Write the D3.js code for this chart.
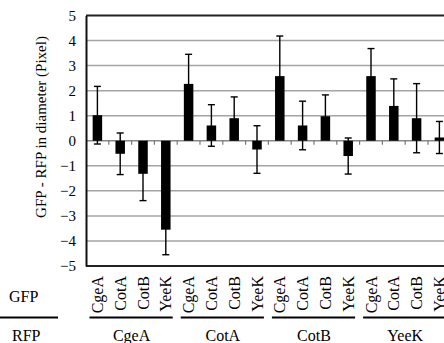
<!DOCTYPE html>
<html>
<head>
<meta charset="utf-8">
<script src="https://cdn.jsdelivr.net/npm/d3@7"></script>
<style>
  body { margin: 0; background: #fff; }
  svg text { font-family: "Liberation Serif", "Times New Roman", serif; }
</style>
</head>
<body>
<svg id="chart"></svg>
<script>
// data
var rfpGroups = ["CgeA", "CotA", "CotB", "YeeK"]
var gfpNames = ["CgeA", "CotA", "CotB", "YeeK"]
var means = [1.02, -0.52, -1.32, -3.55,
             2.27, 0.61, 0.90, -0.35,
             2.58, 0.61, 0.98, -0.61,
             2.58, 1.39, 0.90, 0.13]
var errors = [1.15, 0.83, 1.07, 1.00,
              1.18, 0.83, 0.85, 0.95,
              1.60, 0.97, 0.85, 0.72,
              1.10, 1.08, 1.38, 0.64]
var yTicks = [-5, -4, -3, -2, -1, 0, 1, 2, 3, 4, 5]

var dims = {
    width: 444,
    height: 343,
    margin: { top: 15.5, left: 86, bottom: 77 }
}
var step = 22.8
var serif = "'Liberation Serif', 'Times New Roman', serif"

var rows = []
rfpGroups.forEach(function(r, gi) {
    gfpNames.forEach(function(g, i) {
        var k = gi * 4 + i
        rows.push({ key: r + "_" + g, rfp: r, gfp: g, mean: means[k], err: errors[k] })
    })
})

var svg = d3.select("#chart")
            .attr("width", dims.width)
            .attr("height", dims.height)
            .attr("font-family", serif)

var xScale = d3.scaleBand()
               .domain(rows.map(d => d.key))
               .range([dims.margin.left, dims.margin.left + step * rows.length])

var yScale = d3.scaleLinear()
               .domain([5, -5])
               .range([dims.margin.top, dims.height - dims.margin.bottom])

var xMid = d => xScale(d.key) + xScale.bandwidth() / 2
var barW = 9.5

// gridlines
svg.append("g")
   .selectAll("line")
   .data(yTicks.filter(t => t != 5 && t != -5 && t != 0))
   .enter()
   .append("line")
   .attr("x1", dims.margin.left)
   .attr("x2", dims.width)
   .attr("y1", d => yScale(d))
   .attr("y2", d => yScale(d))
   .attr("stroke", "#a4a4a4")
   .attr("stroke-width", 1.5)

// zero line with category ticks
svg.append("line")
   .attr("x1", dims.margin.left)
   .attr("x2", dims.width)
   .attr("y1", yScale(0))
   .attr("y2", yScale(0))
   .attr("stroke", "#888")
   .attr("stroke-width", 1.5)

svg.append("g")
   .selectAll("line")
   .data(rows)
   .enter()
   .append("line")
   .attr("x1", d => xScale(d.key) + xScale.bandwidth())
   .attr("x2", d => xScale(d.key) + xScale.bandwidth())
   .attr("y1", yScale(0))
   .attr("y2", yScale(0) + 4)
   .attr("stroke", "#777")
   .attr("stroke-width", 1.2)

// error bars
var errG = svg.append("g").attr("stroke", "black").attr("stroke-width", 1.4)
errG.selectAll(".stem")
    .data(rows)
    .enter()
    .append("line")
    .attr("x1", xMid).attr("x2", xMid)
    .attr("y1", d => yScale(d.mean + d.err))
    .attr("y2", d => yScale(d.mean - d.err))
errG.selectAll(".capTop")
    .data(rows)
    .enter()
    .append("line")
    .attr("x1", d => xMid(d) - 3.5).attr("x2", d => xMid(d) + 3.5)
    .attr("y1", d => yScale(d.mean + d.err))
    .attr("y2", d => yScale(d.mean + d.err))
errG.selectAll(".capBot")
    .data(rows)
    .enter()
    .append("line")
    .attr("x1", d => xMid(d) - 3.5).attr("x2", d => xMid(d) + 3.5)
    .attr("y1", d => yScale(d.mean - d.err))
    .attr("y2", d => yScale(d.mean - d.err))

// bars
svg.append("g")
   .selectAll("rect")
   .data(rows)
   .enter()
   .append("rect")
   .attr("x", d => xMid(d) - barW / 2)
   .attr("width", barW)
   .attr("y", d => yScale(Math.max(0, d.mean)))
   .attr("height", d => Math.abs(yScale(d.mean) - yScale(0)))
   .attr("fill", "black")

// frame: top and bottom
svg.append("line")
   .attr("x1", dims.margin.left).attr("x2", dims.width)
   .attr("y1", yScale(5)).attr("y2", yScale(5))
   .attr("stroke", "#222").attr("stroke-width", 1.8)
svg.append("line")
   .attr("x1", dims.margin.left).attr("x2", dims.width)
   .attr("y1", yScale(-5)).attr("y2", yScale(-5))
   .attr("stroke", "#222").attr("stroke-width", 1.8)

var yAxisGen = d3.axisLeft().scale(yScale).tickValues(yTicks).tickSize(0).tickPadding(10)
var yAxis = svg.append("g")
               .attr("transform", `translate(${dims.margin.left},0)`)
               .call(yAxisGen)
               .attr("font-family", serif)
               .attr("font-size", "15px")
yAxis.select(".domain").attr("stroke", "#111").attr("stroke-width", 2)
yAxis.selectAll("text").attr("fill", "black")

// y label
svg.append("text")
   .attr("transform", "rotate(-90)")
   .attr("x", -127)
   .attr("y", 46)
   .attr("text-anchor", "middle")
   .attr("font-size", "15px")
   .attr("fill", "black")
   .text("GFP - RFP in diameter (Pixel)")

// GFP names under each bar
svg.append("g")
   .selectAll("text")
   .data(rows)
   .enter()
   .append("text")
   .attr("transform", d => `translate(${xMid(d) + 5.5},${yScale(-5) + 10}) rotate(-90)`)
   .attr("text-anchor", "end")
   .attr("font-size", "16px")
   .attr("fill", "black")
   .text(d => d.gfp)

// row labels
svg.append("text").attr("x", 9).attr("y", 302).attr("font-size", "16px").text("GFP")
svg.append("text").attr("x", 12).attr("y", 341).attr("font-size", "16px").text("RFP")
svg.append("line")
   .attr("x1", 0).attr("x2", 58)
   .attr("y1", 317.5).attr("y2", 317.5)
   .attr("stroke", "black").attr("stroke-width", 2)

// RFP group lines and labels
var groupStart = r => xScale(r + "_" + gfpNames[0])
var groupEnd = r => xScale(r + "_" + gfpNames[gfpNames.length - 1]) + xScale.bandwidth()

svg.append("g")
   .selectAll("line")
   .data(rfpGroups)
   .enter()
   .append("line")
   .attr("x1", d => groupStart(d) + 3.5)
   .attr("x2", d => groupEnd(d) - 4.5)
   .attr("y1", 317.5).attr("y2", 317.5)
   .attr("stroke", "black").attr("stroke-width", 2)

svg.append("g")
   .selectAll("text")
   .data(rfpGroups)
   .enter()
   .append("text")
   .attr("x", d => (groupStart(d) + groupEnd(d)) / 2)
   .attr("y", 341)
   .attr("text-anchor", "middle")
   .attr("font-size", "16px")
   .attr("fill", "black")
   .text(d => d)
</script>
</body>
</html>
